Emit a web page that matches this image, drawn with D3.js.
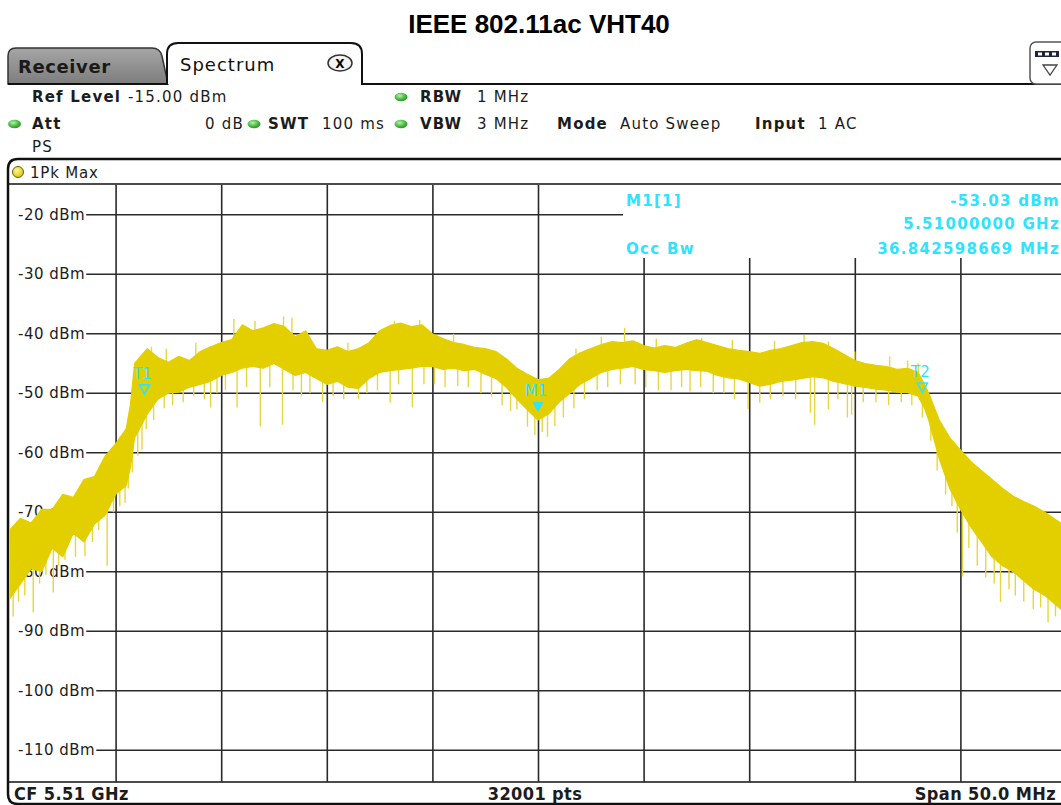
<!DOCTYPE html>
<html>
<head>
<meta charset="utf-8">
<script src="https://cdn.jsdelivr.net/npm/d3@7/dist/d3.min.js"></script>
<style>
  body { margin: 0; background: #fff; }
  svg { display: block; font-family: "DejaVu Sans", Verdana, sans-serif; }
</style>
</head>
<body>
<script>
// trace envelope (offset from CF in MHz, level in dBm)
const freqOffsetMHz = [-25.0, -24.5, -24.0, -23.5, -23.0, -22.5, -22.0, -21.5, -21.0, -20.5, -20.0, -19.5, -19.3, -19.1, -18.5, -18.0, -17.5, -17.0, -16.5, -16.0, -15.5, -15.0, -14.5, -14.0, -13.5, -13.0, -12.5, -12.0, -11.5, -11.0, -10.5, -10.0, -9.5, -9.0, -8.5, -8.0, -7.5, -7.0, -6.5, -6.0, -5.5, -5.0, -4.5, -4.0, -3.5, -3.0, -2.5, -2.0, -1.5, -1.0, -0.5, 0.0, 0.5, 1.0, 1.5, 2.0, 2.5, 3.0, 3.5, 4.0, 4.5, 5.0, 5.5, 6.0, 6.5, 7.0, 7.5, 8.0, 8.5, 9.0, 9.5, 10.0, 10.5, 11.0, 11.5, 12.0, 12.5, 13.0, 13.5, 14.0, 14.5, 15.0, 15.5, 16.0, 16.5, 17.0, 17.5, 18.0, 18.3, 18.5, 19.0, 19.5, 20.0, 20.5, 21.0, 21.5, 22.0, 22.5, 23.0, 23.5, 24.0, 24.5, 25.0];
const upperDbm = [-72.9, -71.0, -71.8, -69.5, -69.5, -67.0, -67.5, -64.5, -64.0, -60.6, -58.5, -56.0, -52.0, -45.0, -42.5, -44.0, -44.8, -43.8, -44.5, -43.0, -42.2, -41.5, -41.0, -38.5, -39.5, -39.0, -38.3, -38.8, -40.5, -39.5, -42.5, -42.8, -42.2, -43.0, -42.5, -41.5, -39.5, -38.6, -38.2, -38.8, -38.5, -40.0, -40.8, -41.5, -41.8, -42.3, -42.5, -43.0, -44.2, -45.8, -46.8, -47.7, -47.5, -46.0, -44.2, -43.2, -42.5, -41.8, -41.3, -41.5, -41.2, -42.0, -42.4, -42.0, -42.3, -41.6, -41.0, -41.5, -42.0, -42.5, -42.8, -43.0, -43.3, -42.8, -42.5, -42.0, -41.5, -41.3, -41.6, -42.5, -43.5, -44.5, -45.0, -45.3, -45.5, -46.0, -45.8, -46.5, -48.5, -50.0, -54.5, -57.5, -59.5, -61.5, -63.0, -64.5, -66.0, -67.3, -68.2, -69.0, -70.0, -71.2, -72.4];
const lowerDbm = [-84.5, -82.0, -79.5, -80.0, -76.0, -77.5, -73.5, -75.0, -72.0, -70.5, -67.0, -65.5, -62.5, -57.5, -53.5, -51.0, -50.0, -49.8, -49.0, -48.5, -48.0, -47.0, -46.5, -45.8, -45.5, -45.8, -45.0, -46.0, -47.0, -46.5, -47.5, -48.5, -48.0, -49.0, -49.2, -47.5, -46.5, -46.2, -46.0, -45.8, -45.5, -45.5, -46.0, -45.8, -46.2, -46.0, -46.8, -47.5, -49.0, -51.0, -52.8, -54.5, -53.5, -51.5, -50.0, -48.5, -47.5, -46.5, -46.0, -45.8, -45.5, -46.0, -46.2, -46.5, -46.2, -46.0, -46.2, -46.3, -47.0, -47.4, -47.6, -48.2, -48.8, -48.5, -48.0, -47.8, -47.5, -47.2, -47.4, -48.0, -48.4, -48.8, -49.0, -49.3, -49.5, -49.8, -49.9, -50.5, -52.5, -54.5, -61.0, -66.0, -69.5, -72.5, -75.0, -77.5, -79.0, -80.0, -81.5, -83.0, -84.0, -85.5, -87.0];

// single-sample spikes sticking out of the band (MHz, dBm)
const spikeMHz = [-24.85, -24.6, -24.3, -23.9, -23.6, -23.3, -22.95, -22.7, -22.4, -21.9, -21.45, -21.1, -20.8, -20.4, -20.1, -19.8, -19.55, -19.4, -19.2,
  -18.95, -18.75, -18.55, -18.2, -17.7, -17.3, -16.8, -16.3, -15.8, -15.5, -15.2, -14.8, -14.25, -13.8, -13.15, -12.7, -12.1, -11.6, -11.2, -10.8, -10.2, -9.7, -9.2, -8.5, -8.1, -7.6, -7.0, -6.6, -5.95, -5.4, -4.9, -4.4, -3.8, -3.3, -2.7, -2.2, -1.7, -1.3, -1.0, -0.5, -0.15, 0.2, 0.45, 0.8, 1.2, 1.7, 2.2, 2.8, 3.3, 3.9, 4.6, 5.1, 5.7, 6.3, 6.8, 7.2, 7.7, 8.3, 8.8, 9.3, 9.95, 10.5, 11.0, 11.6, 12.2, 12.9, 13.1, 13.75, 14.2, 14.65, 14.85, 15.4, 16.0, 16.6, 17.2, 17.7, 18.2,
  18.6, 18.9, 19.3, 19.6, 19.85, 20.1, 20.4, 20.8, 21.2, 21.6, 21.9, 22.3, 22.6, 23.0, 23.45, 23.8, 24.15, 24.5, 24.8,
  -18.3, -17.6, -16.2, -14.4, -13.4, -12.05, -11.65, -9.0, -6.8, -5.6, -4.0, 1.8, 3.0, 4.1, 5.6, 7.75, 9.2, 11.2, 12.6, 13.75, 15.0, 16.65, 17.5, 18.0];
const spikeDbm = [-87.5, -85.0, -84.0, -86.8, -82.0, -80.5, -83.5, -79.0, -78.0, -77.5, -77.4, -75.0, -73.0, -79.0, -70.0, -69.0, -68.4, -66.0, -63.3,
  -60.5, -59.5, -56.0, -54.5, -52.5, -52.0, -51.5, -50.5, -51.0, -52.4, -50.0, -49.5, -52.4, -49.0, -55.6, -49.0, -55.3, -49.5, -50.5, -50.0, -51.5, -50.5, -51.0, -51.0, -50.0, -49.5, -51.6, -48.5, -52.4, -48.5, -48.5, -49.0, -48.8, -49.0, -50.0, -50.5, -52.0, -53.0, -52.7, -55.6, -57.0, -56.5, -57.3, -55.5, -54.0, -52.5, -51.0, -49.5, -49.0, -48.5, -48.5, -49.0, -49.5, -49.5, -49.0, -49.7, -49.0, -50.0, -50.0, -51.0, -52.7, -51.6, -51.0, -50.5, -51.0, -53.3, -55.3, -52.7, -51.0, -54.1, -53.6, -51.5, -51.5, -52.0, -51.5, -52.0, -54.1,
  -58.0, -63.0, -67.0, -69.0, -73.4, -80.8, -76.0, -79.0, -81.0, -82.0, -85.1, -83.0, -84.0, -85.0, -86.3, -86.0, -88.5, -87.5, -89.0,
  -42.2, -42.5, -41.5, -37.5, -37.8, -37.1, -37.3, -41.5, -37.8, -37.7, -40.0, -42.5, -40.5, -39.0, -40.8, -40.7, -41.0, -41.2, -40.2, -41.3, -43.0, -43.8, -44.5, -45.0];

const levelTicks = [-20, -30, -40, -50, -60, -70, -80, -90, -100, -110];
const freqGrid = [-20, -15, -10, -5, 0, 5, 10, 15, 20];

const markerNames = ["T1", "M1", "T2"];
const markerMHz = [-18.63, 0.0, 18.2];
const markerDbm = [-50.1, -53.03, -49.8];

const markerInfoLeft = ["M1[1]", "", "Occ Bw"];
const markerInfoRight = ["-53.03 dBm", "5.51000000 GHz", "36.842598669 MHz"];

const W = 1061, H = 805;
const plot = { left: 10, right: 1066, top: 185, bottom: 780 };
const yellow = "#e3cf00", cyan = "#2de3ff", ink = "#1c1c1c";

const svg = d3.select("body").append("svg")
  .attr("width", W).attr("height", H)
  .attr("viewBox", [0, 0, W, H]);

const defs = svg.append("defs");
const tabGrad = defs.append("linearGradient").attr("id", "tabg").attr("x1", 0).attr("y1", 0).attr("x2", 0).attr("y2", 1);
tabGrad.append("stop").attr("offset", "0%").attr("stop-color", "#a6a6a6");
tabGrad.append("stop").attr("offset", "100%").attr("stop-color", "#7d7d7d");
const ledGrad = defs.append("radialGradient").attr("id", "led").attr("cx", "40%").attr("cy", "35%").attr("r", "70%");
ledGrad.append("stop").attr("offset", "0%").attr("stop-color", "#b8f0b0");
ledGrad.append("stop").attr("offset", "55%").attr("stop-color", "#4fbf45");
ledGrad.append("stop").attr("offset", "100%").attr("stop-color", "#2a8a26");
const dotGrad = defs.append("radialGradient").attr("id", "ydot").attr("cx", "40%").attr("cy", "35%").attr("r", "70%");
dotGrad.append("stop").attr("offset", "0%").attr("stop-color", "#fff59a");
dotGrad.append("stop").attr("offset", "100%").attr("stop-color", "#d9c400");
defs.append("clipPath").attr("id", "plotclip").append("rect")
  .attr("x", plot.left).attr("y", plot.top)
  .attr("width", plot.right - plot.left).attr("height", plot.bottom - plot.top);

// title
svg.append("text")
  .attr("x", 539).attr("y", 33)
  .attr("text-anchor", "middle")
  .style("font-family", "'Liberation Sans', Arial, sans-serif")
  .style("font-weight", "bold").style("font-size", "26px")
  .text("IEEE 802.11ac VHT40");

// tabs
svg.append("path")
  .attr("d", "M8,84 L8,56 Q8,48 16,48 L152,48 Q160,48 162,56 L168,84 Z")
  .attr("fill", "url(#tabg)").attr("stroke", "#333").attr("stroke-width", 1.5);
svg.append("path")
  .attr("d", "M167,84 L167,54 Q167,43 178,43 L351,43 Q362,43 362,54 L362,84")
  .attr("fill", "#fff").attr("stroke", "#111").attr("stroke-width", 2);
svg.append("line").attr("x1", 361).attr("x2", 1061).attr("y1", 84).attr("y2", 84)
  .attr("stroke", "#111").attr("stroke-width", 2);
svg.append("line").attr("x1", 8).attr("x2", 168).attr("y1", 84).attr("y2", 84)
  .attr("stroke", "#111").attr("stroke-width", 2);
svg.append("text").attr("x", 18).attr("y", 73)
  .style("font-size", "18px").style("letter-spacing", "0.6px").attr("fill", "#1a1a1a")
  .style("font-weight", "bold").text("Receiver");
svg.append("text").attr("x", 180).attr("y", 71)
  .style("font-size", "18px").style("letter-spacing", "1px").attr("fill", "#111")
  .text("Spectrum");
svg.append("ellipse").attr("cx", 340).attr("cy", 63).attr("rx", 12).attr("ry", 8)
  .attr("fill", "#f4f4f4").attr("stroke", "#333").attr("stroke-width", 1.5);
svg.append("text").attr("x", 340).attr("y", 67.5).attr("text-anchor", "middle")
  .style("font-size", "12px").style("font-weight", "bold").text("X");

// right toolbar icon
svg.append("rect").attr("x", 1030).attr("y", 42).attr("width", 40).attr("height", 42).attr("rx", 6)
  .attr("fill", "#fff").attr("stroke", "#555").attr("stroke-width", 1.5);
svg.append("rect").attr("x", 1035).attr("y", 51).attr("width", 24).attr("height", 6).attr("fill", "#1d2440");
[1038, 1045, 1052].forEach(x => svg.append("rect").attr("x", x).attr("y", 52.5).attr("width", 4).attr("height", 3).attr("fill", "#fff"));
svg.append("path").attr("d", "M1043,65 L1057,65 L1050,75 Z").attr("fill", "none").attr("stroke", "#444").attr("stroke-width", 1.3);

// settings header
const hdr = svg.append("g").style("font-size", "15px").style("letter-spacing", "1.2px").attr("fill", ink);
function hText(x, y, s, bold, anchor) {
  hdr.append("text").attr("x", x).attr("y", y).attr("text-anchor", anchor || "start")
    .style("font-weight", bold ? "bold" : "normal").text(s);
}
function led(x, y) {
  svg.append("ellipse").attr("cx", x).attr("cy", y).attr("rx", 6.5).attr("ry", 4.2).attr("fill", "url(#led)");
}
hText(32, 102, "Ref Level", true);
hText(128, 102, "-15.00 dBm", false);
hText(32, 129, "Att", true);
hText(244, 129, "0 dB", false, "end");
hText(268, 129, "SWT", true);
hText(322, 129, "100 ms", false);
hText(420, 102, "RBW", true);
hText(477, 102, "1 MHz", false);
hText(420, 129, "VBW", true);
hText(477, 129, "3 MHz", false);
hText(557, 129, "Mode", true);
hText(620, 129, "Auto Sweep", false);
hText(755, 129, "Input", true);
hText(818, 129, "1 AC", false);
hText(32, 152, "PS", false);
led(14.5, 124); led(254, 124); led(401, 97); led(401, 124);

// plot frame
svg.append("path")
  .attr("d", "M1075,159 L18,159 Q8,159 8,169 L8,794 Q8,804 18,804 L1075,804")
  .attr("fill", "#fff").attr("stroke", "#111").attr("stroke-width", 2.5);
svg.append("line").attr("x1", 8).attr("x2", 1061).attr("y1", 184).attr("y2", 184).attr("stroke", "#111").attr("stroke-width", 1.5);
svg.append("line").attr("x1", 8).attr("x2", 1061).attr("y1", 782).attr("y2", 782).attr("stroke", "#111").attr("stroke-width", 1.5);
svg.append("circle").attr("cx", 18).attr("cy", 172).attr("r", 5.5).attr("fill", "url(#ydot)").attr("stroke", "#6b6000").attr("stroke-width", 1);
svg.append("text").attr("x", 30).attr("y", 178).style("font-size", "15px").style("letter-spacing", "0.8px").attr("fill", ink).text("1Pk Max");

// scales
const x = d3.scaleLinear().domain([-25, 25]).range([plot.left, plot.right]);
const y = d3.scaleLinear().domain([-115, -15]).range([plot.bottom, plot.top]);

// grid
const grid = svg.append("g").attr("stroke", "#2a2a2a").attr("stroke-width", 1.6);
grid.selectAll("line.v").data(freqGrid).join("line").attr("class", "v")
  .attr("x1", d => x(d) + 0.5).attr("x2", d => x(d) + 0.5)
  .attr("y1", d => x(d) > 622 ? 258 : plot.top).attr("y2", 782);

const lbl = svg.append("g").style("font-size", "15px").style("letter-spacing", "0.5px").attr("fill", ink);
levelTicks.forEach(v => {
  const t = lbl.append("text").attr("x", 18).attr("y", y(v) + 5).text(`${v} dBm`);
  const end = 18 + t.node().getComputedTextLength() + 1;
  grid.append("line")
    .attr("x1", end).attr("x2", v === -20 ? 623 : plot.right)
    .attr("y1", y(v)).attr("y2", y(v));
});

// trace: spikes first, band on top so only the protruding ends show
const pts = freqOffsetMHz.map((f, i) => ({ f, hi: upperDbm[i], lo: lowerDbm[i] }));
const trace = svg.append("g").attr("clip-path", "url(#plotclip)");
const near = d3.bisector(d => d.f).center;
trace.selectAll("line.spike").data(spikeMHz.map((f, i) => ({ f, v: spikeDbm[i] }))).join("line")
  .attr("class", "spike")
  .attr("x1", d => x(d.f)).attr("x2", d => x(d.f))
  .attr("y1", d => { const p = pts[near(pts, d.f)]; return y((p.hi + p.lo) / 2); })
  .attr("y2", d => y(d.v))
  .attr("stroke", "#e8d640").attr("stroke-width", 1.4);
trace.append("path")
  .datum(pts)
  .attr("d", d3.area().x(d => x(d.f)).y0(d => y(d.lo)).y1(d => y(d.hi)))
  .attr("fill", yellow).attr("stroke", yellow).attr("stroke-width", 1.2).attr("stroke-linejoin", "bevel");

// markers
const mk = svg.append("g");
markerNames.forEach((name, i) => {
  const mx = x(markerMHz[i]), my = y(markerDbm[i]);
  mk.append("path")
    .attr("d", `M${mx - 5},${my - 9} L${mx + 5},${my - 9} L${mx},${my} Z`)
    .attr("fill", name === "M1" ? cyan : "none")
    .attr("stroke", cyan).attr("stroke-width", name === "M1" ? 1 : 1.6);
  mk.append("text").attr("x", mx - 2).attr("y", my - 15).attr("text-anchor", "middle")
    .style("font-size", "15px").attr("fill", cyan).text(name);
});

// marker info box
svg.append("rect").attr("x", 623).attr("y", 186).attr("width", 450).attr("height", 71).attr("fill", "#fff");
const info = svg.append("g").style("font-size", "15px").style("font-weight", "bold")
  .style("letter-spacing", "1.3px").attr("fill", cyan);
const infoY = [206, 229, 254];
infoY.forEach((yy, i) => {
  if (markerInfoLeft[i]) info.append("text").attr("x", 626).attr("y", yy).text(markerInfoLeft[i]);
  info.append("text").attr("x", 1060).attr("y", yy).attr("text-anchor", "end").text(markerInfoRight[i]);
});

// footer
const ft = svg.append("g").style("font-family", "'DejaVu Sans Condensed', 'DejaVu Sans', sans-serif")
  .style("font-size", "18px").style("font-weight", "bold").style("letter-spacing", "0.4px").attr("fill", ink);
ft.append("text").attr("x", 14).attr("y", 800).text("CF 5.51 GHz");
ft.append("text").attr("x", 535).attr("y", 800).attr("text-anchor", "middle").text("32001 pts");
ft.append("text").attr("x", 1056).attr("y", 800).attr("text-anchor", "end").text("Span 50.0 MHz");
</script>
</body>
</html>
